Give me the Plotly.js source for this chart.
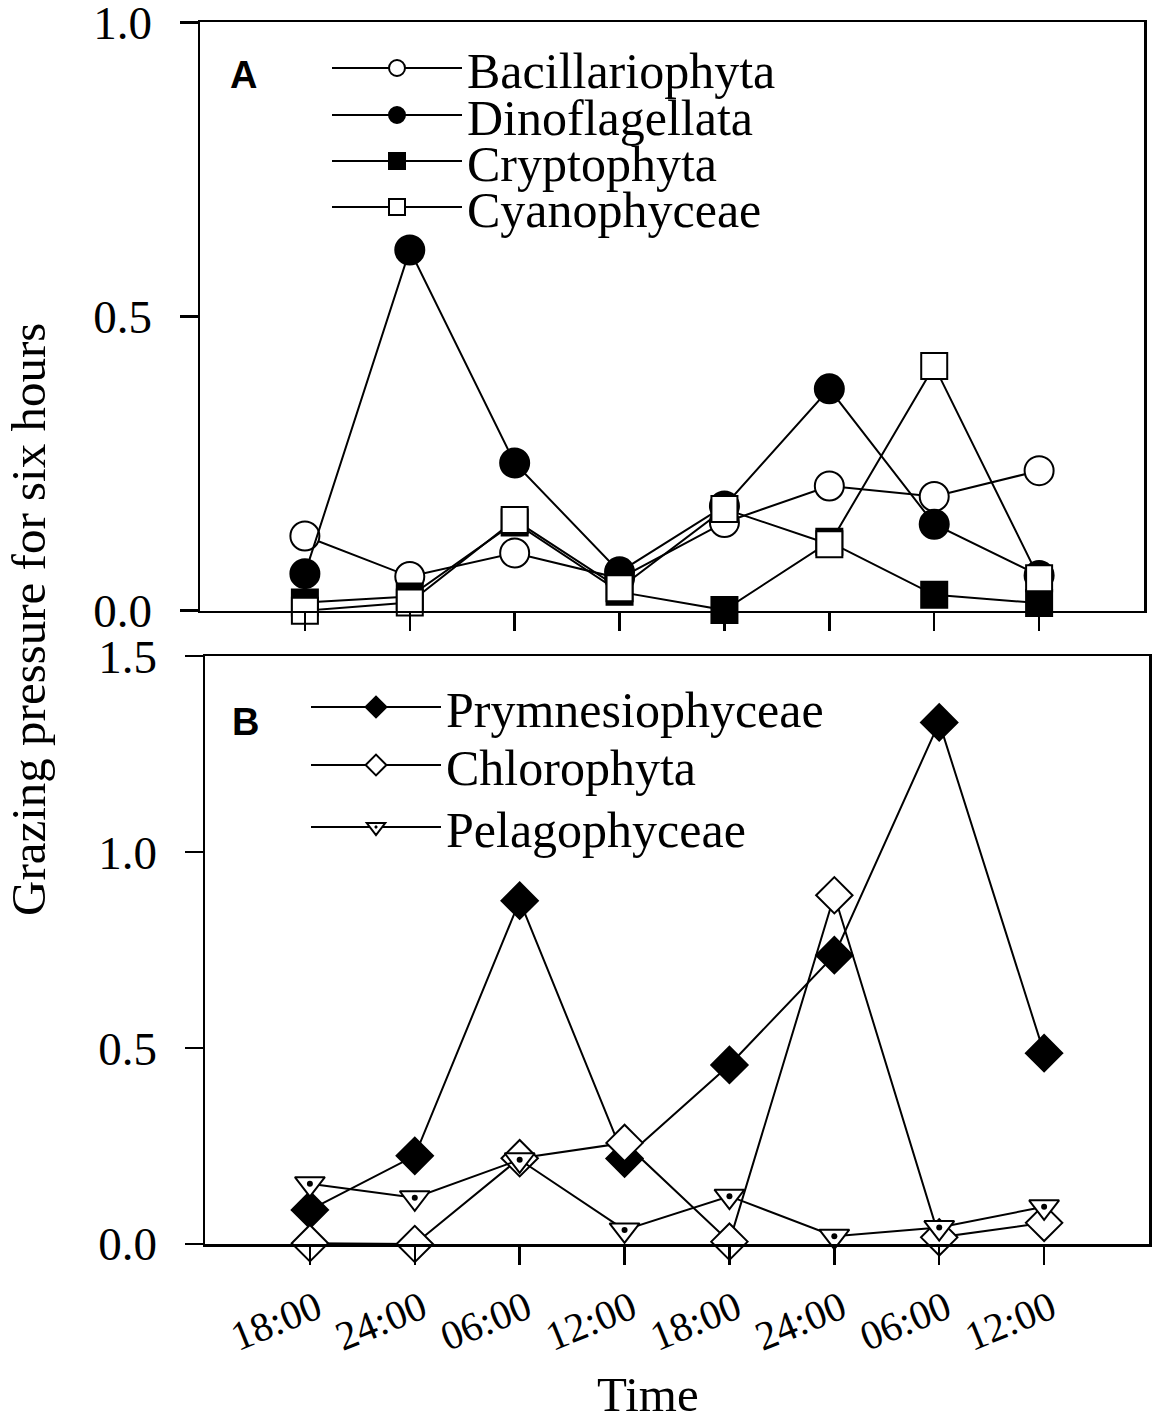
<!DOCTYPE html>
<html>
<head>
<meta charset="utf-8">
<script src="https://cdn.plot.ly/plotly-3.0.1.min.js"></script>
<style>html,body{margin:0;padding:0;background:#fff}</style>
</head>
<body>
<div id="chart" style="width:1156px;height:1420px"></div>
<script>
// ---- data ----
const hours = [0, 6, 12, 18, 24, 30, 36, 42];
const timeLabels = ['18:00', '24:00', '06:00', '12:00', '18:00', '24:00', '06:00', '12:00'];

// Panel A
const bacillariophyta = [0.127, 0.058, 0.098, 0.055, 0.150, 0.212, 0.194, 0.238];
const dinoflagellata  = [0.063, 0.613, 0.251, 0.066, 0.178, 0.377, 0.147, 0.060];
const cryptophyta     = [0.014, 0.024, 0.150, 0.032, 0.001, 0.117, 0.027, 0.013];
const cyanophyceae    = [0.000, 0.014, 0.154, 0.038, 0.173, 0.113, 0.416, 0.055];

// Panel B
const prymnesiophyceae = [0.087, 0.225, 0.876, 0.218, 0.457, 0.737, 1.331, 0.487];
const chlorophyta      = [0.002, 0.000, 0.219, 0.258, 0.006, 0.890, 0.017, 0.054];
const pelagophyceae    = [0.154, 0.118, 0.215, 0.036, 0.122, 0.020, 0.042, 0.095];

const yTicksA = [0, 0.5, 1.0];
const yTicksB = [0, 0.5, 1.0, 1.5];

// ---- layout helpers ----
const W = 1156, H = 1420;
const px = v => v / W;
const py = v => 1 - v / H;
const SERIF = 'Liberation Serif, Times New Roman, serif';
const SANS = 'Liberation Sans, Arial, sans-serif';

function series(name, y, xa, ya, symbol, size, fill, legend) {
  return {
    type: 'scatter', mode: 'lines+markers', name: name,
    x: hours, y: y, xaxis: xa, yaxis: ya, legend: legend,
    cliponaxis: false,
    line: {color: '#000', width: 2},
    marker: {symbol: symbol, size: size, color: fill, line: {color: '#000', width: 2}}
  };
}

const traces = [
  series('Bacillariophyta', bacillariophyta, 'x', 'y', 'circle', 29, '#fff', 'legend'),
  series('Dinoflagellata', dinoflagellata, 'x', 'y', 'circle', 29, '#000', 'legend2'),
  series('Cryptophyta', cryptophyta, 'x', 'y', 'square', 26, '#000', 'legend3'),
  series('Cyanophyceae', cyanophyceae, 'x', 'y', 'square', 26, '#fff', 'legend4'),
  series('Prymnesiophyceae', prymnesiophyceae, 'x2', 'y2', 'diamond', 28, '#000', 'legend5'),
  series('Chlorophyta', chlorophyta, 'x2', 'y2', 'diamond', 28, '#fff', 'legend6'),
  series('Pelagophyceae', pelagophyceae, 'x2', 'y2', 'triangle-down-dot', 26, '#fff', 'legend7'),
  // centre dot of the Pelagophyceae symbols
  {type: 'scatter', mode: 'markers', x: hours, y: pelagophyceae, xaxis: 'x2', yaxis: 'y2',
   showlegend: false, cliponaxis: false, hoverinfo: 'skip',
   marker: {symbol: 'circle', size: 6, color: '#000', line: {width: 0}}}
];

function leg(xPix, yPix) {
  return {
    x: px(xPix), xanchor: 'left', y: py(yPix), yanchor: 'middle',
    font: {family: SERIF, size: 50, color: '#000'},
    bgcolor: 'rgba(0,0,0,0)', borderwidth: 0,
    itemwidth: 130, itemsizing: 'trace', itemclick: false
  };
}

const xBase = {
  range: [-6, 48], tickvals: hours, ticktext: timeLabels,
  ticks: 'outside', ticklen: 18, tickwidth: 2.5, tickcolor: '#000',
  showline: true, linewidth: 2.5, linecolor: '#000', mirror: true,
  showgrid: false, zeroline: false, fixedrange: true
};
const yBase = {
  ticks: 'outside', ticklen: 18, tickwidth: 2.5, tickcolor: '#000',
  showline: true, linewidth: 2.5, linecolor: '#000', mirror: true,
  showgrid: false, zeroline: false, tickformat: '.1f',
  tickfont: {family: SERIF, size: 47, color: '#000'},
  ticklabelstandoff: 18, ticklabeloverflow: 'allow', fixedrange: true
};

const layout = {
  width: W, height: H,
  margin: {l: 0, r: 0, t: 0, b: 0},
  paper_bgcolor: '#fff', plot_bgcolor: '#fff',
  font: {family: SERIF, color: '#000'},
  xaxis: Object.assign({}, xBase, {
    domain: [px(200), px(1144)], anchor: 'y', showticklabels: false
  }),
  yaxis: Object.assign({}, yBase, {
    domain: [py(610.7), py(22)], anchor: 'x', range: [0, 1.0005], tickvals: yTicksA
  }),
  xaxis2: Object.assign({}, xBase, {
    domain: [px(205), px(1149)], anchor: 'y2', showticklabels: true,
    tickangle: -22, ticklabelstandoff: 4, ticklabelshift: 7, ticklabeloverflow: 'allow',
    tickfont: {family: SERIF, size: 41, color: '#000'}
  }),
  yaxis2: Object.assign({}, yBase, {
    domain: [py(1244), py(656)], anchor: 'x2', range: [0, 1.5005], tickvals: yTicksB
  }),
  legend: leg(327, 68),
  legend2: leg(327, 115),
  legend3: leg(327, 161),
  legend4: leg(327, 207),
  legend5: leg(306, 707),
  legend6: leg(306, 765),
  legend7: leg(306, 827),
  annotations: [
    {text: '<b>A</b>', xref: 'paper', yref: 'paper', x: px(243), y: py(75),
     xanchor: 'center', yanchor: 'middle',
     showarrow: false, font: {family: SANS, size: 38, color: '#000'}},
    {text: '<b>B</b>', xref: 'paper', yref: 'paper', x: px(245), y: py(722),
     xanchor: 'center', yanchor: 'middle',
     showarrow: false, font: {family: SANS, size: 38, color: '#000'}},
    {text: 'Grazing pressure for six hours', xref: 'paper', yref: 'paper',
     x: px(28), y: py(620), xanchor: 'center', yanchor: 'middle', textangle: -90, showarrow: false,
     font: {family: SERIF, size: 49, color: '#000'}},
    {text: 'Time', xref: 'paper', yref: 'paper', x: px(648), y: py(1394),
     xanchor: 'center', yanchor: 'middle',
     showarrow: false, font: {family: SERIF, size: 49, color: '#000'}}
  ],
  showlegend: true
};

Plotly.newPlot('chart', traces, layout, {displayModeBar: false, staticPlot: true});
</script>
</body>
</html>
